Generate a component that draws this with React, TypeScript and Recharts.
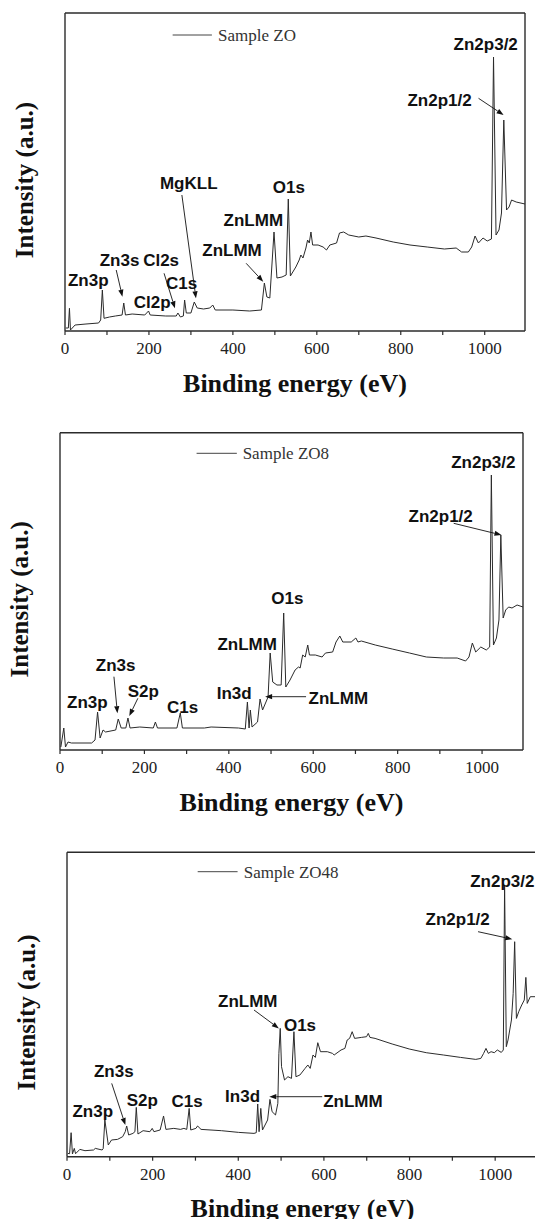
import React from 'react';
import { LineChart, Line, XAxis, YAxis, ReferenceDot, ReferenceLine, Label } from 'recharts';

const SERIF = '"Liberation Serif", "Times New Roman", Times, serif';
const SANS = '"Liberation Sans", Arial, Helvetica, sans-serif';
const INK = '#2b2b2b';

const xTicks = [0, 100, 200, 300, 400, 500, 600, 700, 800, 900, 1000];
const xTickText = (v: number) => (v % 200 === 0 ? String(v) : '');
const xAxisTitle = 'Binding energy (eV)';
const yAxisTitle = 'Intensity (a.u.)';

// [binding energy (eV), intensity (a.u.)]
const zoSpectrum: [number, number][] = [
  [2, 3], [8, 3], [10.6, 22.7], [13, 1], [24, 6], [50, 7], [80, 8], [85, 11], [89, 41], [93, 12.7],
  [106, 14], [120, 15], [136, 16], [140, 28], [144, 16], [160, 17], [190, 16], [199, 20], [203, 16],
  [240, 15], [265, 15], [269, 18], [275, 14], [282, 15], [285, 31], [289, 18], [300, 18], [308, 29],
  [315, 23], [330, 22], [345, 23], [352, 26], [358, 21], [400, 21], [440, 20], [468, 21], [475, 48],
  [481, 34], [488, 33], [498, 99], [505, 53], [517, 54], [527, 56], [532, 132], [537, 55], [550, 64],
  [558, 71], [562, 76], [567, 73], [574, 83], [578, 91], [582, 88], [586, 99], [590, 86], [603, 86],
  [615, 84], [623, 81], [631, 86], [647, 88], [654, 98], [664, 99], [676, 96], [700, 94], [717, 95],
  [741, 93], [782, 89], [822, 86], [863, 84], [904, 82], [932, 83], [945, 79], [961, 79], [969, 84],
  [977, 95], [985, 88], [996, 93], [1006, 90], [1016, 92], [1021, 274], [1027, 96], [1034, 101],
  [1040, 118], [1045.5, 211], [1052, 121], [1058, 124], [1064, 131], [1075, 129], [1096, 127],
];

const zo8Spectrum: [number, number][] = [
  [2, 3], [9, 22], [13, 3], [19, 8], [27, 7], [75, 7], [83, 10], [89, 38], [95, 12], [102, 20],
  [108, 18], [132, 20], [138, 31], [145, 22], [156, 22], [161, 32], [166, 22], [189, 23], [221, 22],
  [226, 28], [231, 22], [277, 22], [285, 37], [290, 22], [342, 22], [358, 23], [423, 22], [439, 21],
  [444, 48], [448, 22], [451, 40], [455, 23], [468, 28], [474, 51], [480, 40], [488, 48], [493, 53],
  [498, 97], [504, 68], [514, 65], [524, 65], [530, 137], [535, 63], [545, 70], [557, 80], [565, 83],
  [569, 82], [575, 95], [581, 93], [587, 105], [591, 95], [605, 95], [621, 93], [629, 97], [646, 98],
  [654, 108], [663, 114], [670, 108], [690, 108], [701, 112], [706, 108], [714, 109], [747, 105],
  [787, 101], [828, 97], [868, 93], [909, 92], [941, 92], [961, 89], [969, 93], [977, 107], [985, 98],
  [997, 103], [1010, 100], [1018, 103], [1022, 275], [1027, 105], [1034, 112], [1040, 130],
  [1044.5, 215], [1050, 132], [1056, 140], [1063, 143], [1071, 142], [1083, 145], [1097, 143],
];

const zo48Spectrum: [number, number][] = [
  [2, 3.3], [6, 3], [9.6, 24], [12.7, 2.7], [17, 8.3], [20, 3], [30, 7.3], [42, 6], [62, 6.7], [66, 8.3],
  [82, 6.7], [84.5, 8], [88.4, 36.7], [96.4, 11.7], [104, 16.7], [118, 17.3], [130, 20], [136, 25],
  [139.4, 30.7], [144, 21.7], [154, 23.3], [158.6, 25], [161.8, 49.3], [165.7, 22.7], [177.7, 26],
  [193.6, 25], [199, 28.3], [203, 25], [217.5, 26.7], [225.5, 40.7], [231, 27.3], [249.4, 28.3],
  [265, 27.3], [273, 28.3], [279.7, 27.3], [285.3, 48.3], [289, 26.7], [301, 28.3], [305, 30.7],
  [313, 27.3], [361, 26], [400.8, 24.3], [436.7, 23.3], [442, 24], [445.4, 52.7], [448.6, 25],
  [452.6, 48.3], [456.6, 26.7], [468.5, 36.7], [474, 57.3], [479, 45], [487, 41.7], [492.4, 53.3],
  [494.8, 103], [498, 128.3], [501, 90], [508, 76.7], [516, 80], [524.3, 78.3], [530, 125], [534.7, 80],
  [544, 81.7], [556, 88.3], [562.5, 91.7], [568, 88.3], [574.5, 101.7], [580, 99.3], [585.7, 114],
  [592, 105], [608, 105], [620, 103.3], [624, 101.7], [640, 106.7], [649, 108.3], [654.4, 116.7],
  [660, 118.3], [666, 125], [671.7, 118.3], [687.6, 119.3], [699.6, 120], [703.6, 123.3], [707.6, 119.3],
  [719.5, 118.3], [759.4, 112.7], [799.2, 107.7], [839, 104], [879, 101.7], [919, 99.3], [954.6, 97.3],
  [966.5, 98.3], [973, 103.3], [978.5, 108.3], [984, 103.3], [990.4, 105], [998, 104], [1005, 106.7],
  [1014.3, 104.3], [1019, 106.7], [1022, 271.7], [1026, 110], [1030, 116.7], [1038, 136.7], [1042, 163.3],
  [1045.5, 215], [1049.6, 138.3], [1055, 145], [1062, 151.7], [1068, 156.7], [1071.7, 179.3],
  [1074.9, 153.3], [1082, 160], [1100, 160],
];

type PeakLabel = { text: string; x: number; y: number };
type Arrow = { x1: number; y1: number; x2: number; y2: number };

const zoLabels: PeakLabel[] = [
  { text: 'Zn3p', x: 55.4, y: 45.3 }, { text: 'Zn3s', x: 130, y: 65.3 }, { text: 'Cl2s', x: 229, y: 65.3 },
  { text: 'Cl2p', x: 207.7, y: 22.7 }, { text: 'C1s', x: 277.7, y: 41.7 }, { text: 'MgKLL', x: 294.8, y: 141.7 },
  { text: 'ZnLMM', x: 398, y: 75 }, { text: 'ZnLMM', x: 448.7, y: 105 }, { text: 'O1s', x: 533.4, y: 138.3 },
  { text: 'Zn2p3/2', x: 1002.4, y: 281 }, { text: 'Zn2p1/2', x: 892.5, y: 225 },
];
const zoArrows: Arrow[] = [
  { x1: 122, y1: 61, x2: 136.8, y2: 34.3 }, { x1: 236, y1: 57.7, x2: 262, y2: 22.7 },
  { x1: 278.5, y1: 136, x2: 312, y2: 32.7 }, { x1: 431.6, y1: 67.7, x2: 472.3, y2: 49.3 },
  { x1: 985.3, y1: 232.7, x2: 1045, y2: 216 },
];

const zo8Labels: PeakLabel[] = [
  { text: 'Zn3p', x: 64.7, y: 41.7 }, { text: 'Zn3s', x: 131.9, y: 79.3 }, { text: 'S2p', x: 197.4, y: 53.3 },
  { text: 'C1s', x: 290.5, y: 37.3 }, { text: 'In3d', x: 412.6, y: 51 }, { text: 'ZnLMM', x: 443.4, y: 100 },
  { text: 'O1s', x: 538.8, y: 146 }, { text: 'ZnLMM', x: 659.4, y: 46 }, { text: 'Zn2p3/2', x: 1003, y: 281.7 },
  { text: 'Zn2p1/2', x: 902, y: 228.3 },
];
const zo8Arrows: Arrow[] = [
  { x1: 127.8, y1: 73.3, x2: 136, y2: 36.7 }, { x1: 184.5, y1: 51.7, x2: 164.2, y2: 34 },
  { x1: 583, y1: 53.3, x2: 486, y2: 53.3 }, { x1: 932.8, y1: 226.7, x2: 1046, y2: 215 },
];

const zo48Labels: PeakLabel[] = [
  { text: 'Zn3p', x: 60.2, y: 40 }, { text: 'Zn3s', x: 109.2, y: 79.3 }, { text: 'S2p', x: 175.7, y: 51 },
  { text: 'C1s', x: 280.5, y: 50 }, { text: 'In3d', x: 410, y: 55 }, { text: 'ZnLMM', x: 422.3, y: 149.3 },
  { text: 'O1s', x: 544.2, y: 125.7 }, { text: 'ZnLMM', x: 667.7, y: 50 }, { text: 'Zn2p3/2', x: 1016.7, y: 270 },
  { text: 'Zn2p1/2', x: 912.4, y: 231.7 },
];
const zo48Arrows: Arrow[] = [
  { x1: 104.4, y1: 73.3, x2: 136.3, y2: 31.7 }, { x1: 436.7, y1: 146.7, x2: 494.8, y2: 128.3 },
  { x1: 596, y1: 60, x2: 472.5, y2: 60 }, { x1: 960, y1: 225, x2: 1040, y2: 217.5 },
];

type LegendItem = { name: string; x1: number; x2: number; y: number; textX: number };

type PanelCfg = {
  top: number; left: number; plotTop: number; plotW: number; plotH: number; xMax: number;
  spectrum: [number, number][]; labels: PeakLabel[]; arrows: Arrow[]; legend: LegendItem;
};

const panels: PanelCfg[] = [
  {
    top: 0, left: 65, plotTop: 13, plotW: 460, plotH: 318, xMax: 1096,
    spectrum: zoSpectrum, labels: zoLabels, arrows: zoArrows,
    legend: { name: 'Sample ZO', x1: 256.5, x2: 350, y: 296, textX: 364.8 },
  },
  {
    top: 400, left: 60, plotTop: 32.7, plotW: 463, plotH: 317.3, xMax: 1097,
    spectrum: zo8Spectrum, labels: zo8Labels, arrows: zo8Arrows,
    legend: { name: 'Sample ZO8', x1: 323.6, x2: 419, y: 296.7, textX: 432.8 },
  },
  {
    top: 820, left: 67, plotTop: 32.3, plotW: 471, plotH: 304.4, xMax: 1100,
    spectrum: zo48Spectrum, labels: zo48Labels, arrows: zo48Arrows,
    legend: { name: 'Sample ZO48', x1: 305.2, x2: 398.4, y: 285, textX: 412.7 },
  },
];

const arrowShape = (p: any) => {
  const x1 = Number(p.x1), y1 = Number(p.y1), x2 = Number(p.x2), y2 = Number(p.y2);
  const dx = x2 - x1, dy = y2 - y1;
  const len = Math.hypot(dx, dy) || 1;
  const ux = dx / len, uy = dy / len;
  const hl = 7, hw = 2.6;
  const bx = x2 - ux * hl, by = y2 - uy * hl;
  return (
    <g>
      <line x1={x1} y1={y1} x2={bx} y2={by} stroke="#111" strokeWidth={0.9} />
      <polygon points={`${x2},${y2} ${bx - uy * hw},${by + ux * hw} ${bx + uy * hw},${by - ux * hw}`} fill="#111" />
    </g>
  );
};

const plainLine = (p: any) => (
  <line x1={p.x1} y1={p.y1} x2={p.x2} y2={p.y2} stroke="#444" strokeWidth={1} />
);

const SerifTick = (p: any) => (
  <text x={p.x} y={p.y} dy={12.2} textAnchor="middle" fontFamily={SERIF} fontSize={17} fill="#222">
    {xTickText(Number(p.payload?.value))}
  </text>
);

function Panel({ cfg }: { cfg: PanelCfg }) {
  const { top, left, plotTop, plotW, plotH, xMax, spectrum, labels, arrows, legend } = cfg;
  const right = 20;
  const axisH = 70;
  const width = left + plotW + right;
  const height = plotTop + plotH + axisH;
  const rows = spectrum.map(([x, y]) => ({ x, y }));
  const axisLine = { stroke: INK, strokeWidth: 1.4 };
  const xTitle = () => (
    <text x={left + plotW / 2} y={plotTop + plotH + 60.5} textAnchor="middle" fontFamily={SERIF}
      fontWeight="bold" fontSize={26} fill="#111">{xAxisTitle}</text>
  );
  const yCx = left - 32;
  const yCy = plotTop + plotH / 2 + 8;
  const yTitle = () => (
    <text x={yCx} y={yCy} transform={`rotate(-90, ${yCx}, ${yCy})`} textAnchor="middle" fontFamily={SERIF}
      fontWeight="bold" fontSize={25} fill="#111">{yAxisTitle}</text>
  );
  return (
    <div style={{ position: 'absolute', left: 0, top, width, height }}>
      <LineChart width={width} height={height} data={rows}
        margin={{ top: plotTop - 1, right: right - 1, bottom: 0, left: left - 1 }}>
        <XAxis dataKey="x" type="number" domain={[0, xMax]} allowDataOverflow ticks={xTicks}
          interval={0} tickSize={4} tickMargin={7} tick={SerifTick}
          axisLine={axisLine} tickLine={{ stroke: INK, strokeWidth: 1.2 }} height={axisH}>
          <Label content={xTitle} />
          <Label content={yTitle} />
        </XAxis>
        <XAxis xAxisId="top" orientation="top" type="number" domain={[0, xMax]} height={1}
          tick={false} tickLine={false} axisLine={axisLine} />
        <YAxis type="number" domain={[0, plotH]} allowDataOverflow width={1} tick={false}
          tickLine={false} axisLine={axisLine} />
        <YAxis yAxisId="right" orientation="right" type="number" domain={[0, plotH]} width={1}
          tick={false} tickLine={false} axisLine={axisLine} />
        <Line dataKey="y" type="linear" stroke={INK} strokeWidth={1} dot={false} activeDot={false}
          isAnimationActive={false} />
        <ReferenceLine segment={[{ x: legend.x1, y: legend.y }, { x: legend.x2, y: legend.y }]}
          shape={plainLine} ifOverflow="visible" />
        <ReferenceDot x={legend.textX} y={legend.y} r={0} ifOverflow="visible"
          shape={(p: any) => (
            <text x={p.cx} y={p.cy} dy={6} textAnchor="start" fontFamily={SERIF} fontSize={17} fill="#333">{legend.name}</text>
          )} />
        {arrows.map((a, i) => (
          <ReferenceLine key={`a${i}`} segment={[{ x: a.x1, y: a.y1 }, { x: a.x2, y: a.y2 }]}
            shape={arrowShape} ifOverflow="visible" />
        ))}
        {labels.map((l, i) => (
          <ReferenceDot key={`l${i}`} x={l.x} y={l.y} r={0} ifOverflow="visible"
            shape={(p: any) => (
              <text x={p.cx} y={p.cy} textAnchor="middle" fontFamily={SANS} fontWeight="bold"
                fontSize={17} fill="#111">{l.text}</text>
            )} />
        ))}
      </LineChart>
    </div>
  );
}

export default function App() {
  return (
    <div style={{ position: 'absolute', left: 0, top: 0, width: 535, height: 1219, overflow: 'hidden', background: '#fff' }}>
      {panels.map((cfg, i) => (
        <Panel key={i} cfg={cfg} />
      ))}
    </div>
  );
}
